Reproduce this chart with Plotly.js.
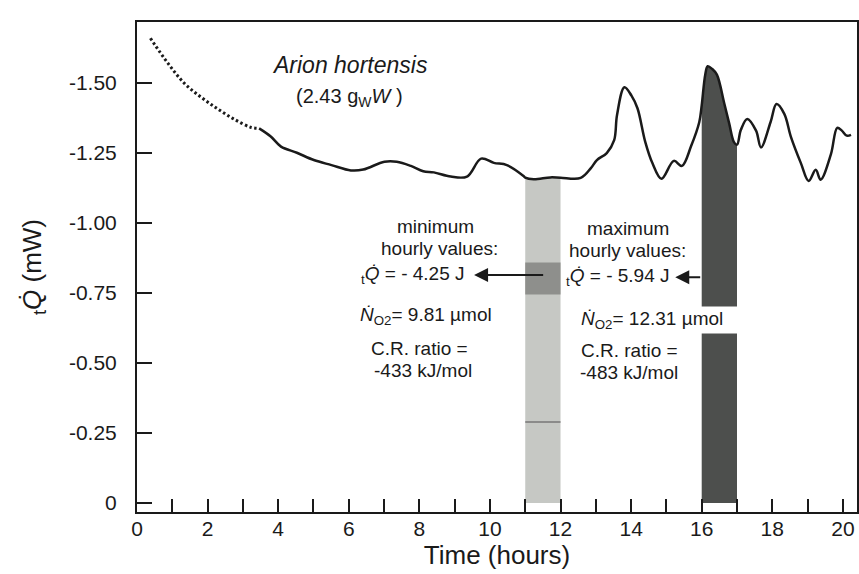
<!DOCTYPE html>
<html><head><meta charset="utf-8">
<script src="https://cdn.plot.ly/plotly-3.0.1.min.js"></script>
<style>html,body{margin:0;padding:0;background:#fff}#chart{width:859px;height:574px}</style>
</head><body><div id="chart"></div><script>
// ---- data (hours, heat flow in mW; negative = exothermic) ----
const dottedHours = [0.38, 0.88, 1.35, 1.83, 2.28, 2.75, 3.22, 3.46];
const dottedQ     = [-1.66, -1.570, -1.498, -1.448, -1.408, -1.371, -1.342, -1.338];

const hours = [3.46, 3.79, 4.08, 4.53, 5.01, 5.51, 6.06, 6.41, 7.01, 7.36, 7.76, 8.11, 8.41, 8.89, 9.35,
  9.75, 10.11, 10.48, 10.96, 11.0, 11.24, 11.71, 12.0, 12.57, 12.86, 13.03, 13.31, 13.52, 13.6, 13.81,
  14.01, 14.18, 14.4, 14.6, 14.86, 15.21, 15.44, 15.7, 15.93, 16.0, 16.1, 16.17, 16.3, 16.43, 16.64,
  16.78, 16.91, 17.0, 17.11, 17.29, 17.54, 17.68, 17.95, 18.12, 18.34, 18.53, 18.81, 19.03, 19.23,
  19.37, 19.66, 19.84, 19.97, 20.11, 20.23];
const heatQ = [-1.338, -1.309, -1.273, -1.251, -1.225, -1.207, -1.188, -1.191, -1.219, -1.219, -1.204, -1.185, -1.181, -1.166, -1.166,
  -1.230, -1.215, -1.207, -1.167, -1.162, -1.156, -1.163, -1.162, -1.161, -1.196, -1.225, -1.25, -1.296, -1.385, -1.485,
  -1.455, -1.41, -1.29, -1.215, -1.158, -1.222, -1.204, -1.275, -1.36, -1.42, -1.53, -1.56, -1.55, -1.53, -1.427,
  -1.355, -1.29, -1.28, -1.333, -1.372, -1.33, -1.27, -1.36, -1.425, -1.39, -1.307, -1.214, -1.15, -1.19,
  -1.155, -1.245, -1.34, -1.33, -1.312, -1.315];

const minHour = [11, 12];          // hour of minimum heat output
const maxHour = [16, 17];          // hour of maximum heat output
const minPatch = [-0.745, -0.859]; // darker band inside minimum bar
const minLine = -0.289;            // thin line inside minimum bar

const xTickVals = [0,1,2,3,4,5,6,7,8,9,10,11,12,13,14,15,16,17,18,19,20];
const xTickText = ['0','','2','','4','','6','','8','','10','','12','','14','','16','','18','','20'];
const yTickVals = [0, -0.25, -0.5, -0.75, -1.0, -1.25, -1.5];
const yTickText = ['0', '-0.25', '-0.50', '-0.75', '-1.00', '-1.25', '-1.50'];

const minText = ['minimum', 'hourly values:', '<sub>t</sub><i>Q̇</i> = - 4.25 J', '<i>Ṅ</i><sub>O2</sub>= 9.81 µmol', 'C.R. ratio =', '-433 kJ/mol'];
const maxText = ['maximum', 'hourly values:', '<sub>t</sub><i>Q̇</i> = - 5.94 J', '<i>Ṅ</i><sub>O2</sub>= 12.31 µmol', 'C.R. ratio =', '-483 kJ/mol'];

// ---- helpers ----
function slice(lo, hi) {
  const x = [], y = [];
  hours.forEach((h, i) => { if (h >= lo && h <= hi) { x.push(h); y.push(heatQ[i]); } });
  return {x, y};
}
const minSeg = slice(minHour[0], minHour[1]);
const maxSeg = slice(maxHour[0], maxHour[1]);

const FONT = 'Liberation Sans, Arial, Helvetica, sans-serif';
const INK = '#1a1a1a';

const traces = [
  {x: minSeg.x, y: minSeg.y, type: 'scatter', mode: 'lines', fill: 'tozeroy',
   fillcolor: '#c6c8c4', line: {width: 0, shape: 'spline'}, hoverinfo: 'skip'},
  {x: [minHour[0], minHour[1], minHour[1], minHour[0], minHour[0]],
   y: [minPatch[0], minPatch[0], minPatch[1], minPatch[1], minPatch[0]],
   type: 'scatter', mode: 'lines', fill: 'toself', fillcolor: '#8e8f8c', line: {width: 0}, hoverinfo: 'skip'},
  {x: minHour, y: [minLine, minLine], type: 'scatter', mode: 'lines',
   line: {width: 1.5, color: '#777'}, hoverinfo: 'skip'},
  {x: maxSeg.x, y: maxSeg.y, type: 'scatter', mode: 'lines', fill: 'tozeroy',
   fillcolor: '#4d4f4d', line: {width: 0, shape: 'spline'}, hoverinfo: 'skip'},
  {x: dottedHours, y: dottedQ, type: 'scatter', mode: 'lines',
   line: {color: INK, width: 3, dash: '2.5px,2.5px', shape: 'spline'}},
  {x: hours, y: heatQ, type: 'scatter', mode: 'lines',
   line: {color: INK, width: 2.5, shape: 'spline'}}
];

const minPos = {cx: [8.46, 8.58, 6.3, 6.27, 8.01, 8.09], y: [-0.989, -0.91, -0.814, -0.668, -0.553, -0.475],
                anchor: ['center', 'center', 'left', 'left', 'center', 'center']};
const maxPos = {cx: [13.92, 13.9, 12.1, 12.53, 13.95, 13.95], y: [-0.981, -0.902, -0.806, -0.652, -0.545, -0.467],
                anchor: ['center', 'center', 'left', 'left', 'center', 'center']};

const annotations = [
  {x: 6.03, y: -1.563, xref: 'x', yref: 'y', text: '<i>Arion hortensis</i>', showarrow: false,
   font: {family: FONT, size: 23, color: INK}},
  {x: 6.02, y: -1.449, xref: 'x', yref: 'y', text: '(2.43 g<sub>W</sub><i>W</i> )', showarrow: false,
   font: {family: FONT, size: 20, color: INK}}
];
minText.forEach((t, i) => annotations.push({x: minPos.cx[i], y: minPos.y[i], xref: 'x', yref: 'y', text: t,
  showarrow: false, xanchor: minPos.anchor[i], font: {family: FONT, size: 19, color: INK}}));
maxText.forEach((t, i) => {
  const a = {x: maxPos.cx[i], y: maxPos.y[i], xref: 'x', yref: 'y', text: t,
    showarrow: false, xanchor: maxPos.anchor[i], font: {family: FONT, size: 19, color: INK}};
  if (i === 3) { a.bgcolor = '#ffffff'; a.width = 160; a.align = 'left'; a.borderpad = 1; }
  annotations.push(a);
});
// arrows
annotations.push({x: 9.55, y: -0.814, ax: 11.55, ay: -0.814, axref: 'x', ayref: 'y', xref: 'x', yref: 'y',
  text: '', showarrow: true, arrowhead: 2, arrowsize: 1.4, arrowwidth: 2, arrowcolor: INK});
annotations.push({x: 15.25, y: -0.806, ax: 16.0, ay: -0.806, axref: 'x', ayref: 'y', xref: 'x', yref: 'y',
  text: '', showarrow: true, arrowhead: 2, arrowsize: 1.4, arrowwidth: 2, arrowcolor: INK});

const layout = {
  width: 859, height: 574,
  margin: {l: 137, r: 2, t: 22, b: 62},
  paper_bgcolor: '#fff', plot_bgcolor: '#fff',
  showlegend: false,
  font: {family: FONT, color: INK},
  xaxis: {
    range: [0, 20.4], showgrid: false, zeroline: false,
    showline: true, mirror: true, linecolor: INK, linewidth: 2,
    tickmode: 'array', tickvals: xTickVals, ticktext: xTickText,
    ticks: 'inside', ticklen: 13, tickwidth: 2, tickcolor: INK,
    tickfont: {family: FONT, size: 21, color: INK}, ticklabelstandoff: -3,
    title: {text: 'Time (hours)', font: {family: FONT, size: 26, color: INK}, standoff: 4}
  },
  yaxis: {
    range: [0.032, -1.718], showgrid: false, zeroline: false,
    showline: true, mirror: true, linecolor: INK, linewidth: 2,
    tickmode: 'array', tickvals: yTickVals, ticktext: yTickText,
    ticks: 'inside', ticklen: 15, tickwidth: 2, tickcolor: INK,
    tickfont: {family: FONT, size: 21, color: INK}, ticklabelstandoff: 14,
    title: {text: '<sub>t</sub><i>Q̇</i> (mW)', font: {family: FONT, size: 26, color: INK}, standoff: 20}
  },
  annotations: annotations
};

Plotly.newPlot('chart', traces, layout, {staticPlot: true, displayModeBar: false});
</script></body></html>
